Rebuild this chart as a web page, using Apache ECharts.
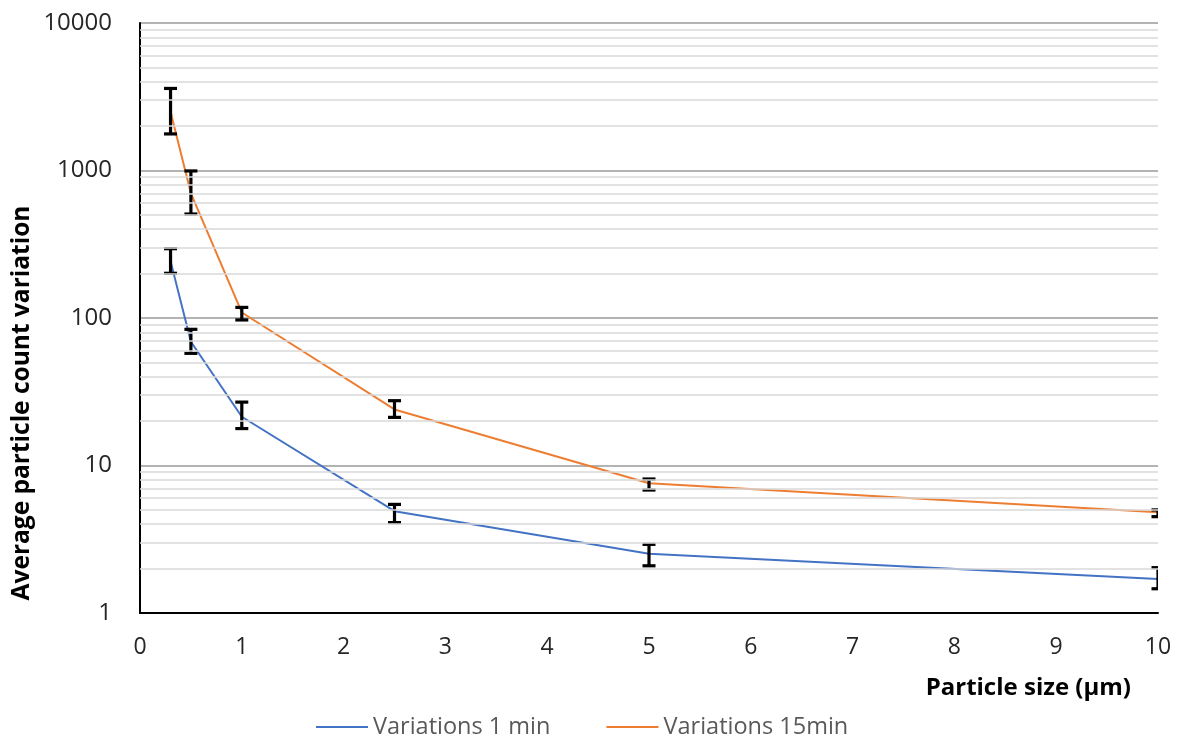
<!DOCTYPE html>
<html><head><meta charset="utf-8">
<script src="https://cdn.jsdelivr.net/npm/echarts@6/dist/echarts.min.js"></script>
<style>html,body{margin:0;padding:0;background:#fff}#c{width:1178px;height:738px}</style>
</head><body><div id="c"></div>
<script>
const sizes = [0.3, 0.5, 1, 2.5, 5, 10];
const var1min = [243, 69, 21.4, 4.9, 2.52, 1.7];
const var1minLow = [201, 57.6, 17.8, 4.1, 2.09, 1.46];
const var1minHigh = [295, 83.8, 26.9, 5.45, 2.92, 2.03];
const var15min = [2500, 700, 109, 24.0, 7.57, 4.82];
const var15minLow = [1770, 507, 97, 21.2, 6.82, 4.5];
const var15minHigh = [3600, 993, 118, 27.5, 8.1, 5.0];
const yTicks = [1, 10, 100, 1000, 10000];
const minorGridValues = [2,3,4,5,6,7,8,9,20,30,40,50,60,70,80,90,200,300,400,500,600,700,800,900,2000,3000,4000,5000,6000,7000,8000,9000];
const seriesNames = ['Variations 1 min', 'Variations 15min'];

const FONT = '"Open Sans"';
const chart = echarts.init(document.getElementById('c'), null, {renderer: 'canvas'});

function errData(xs, lo, hi) { return xs.map((x, i) => [x, lo[i], hi[i]]); }
function errRender(params, api) {
  const x = api.value(0);
  const p1 = api.coord([x, api.value(1)]);
  const p2 = api.coord([x, api.value(2)]);
  const w = 6.5;
  const style = {stroke: '#000', lineWidth: 3.2};
  return {type: 'group', children: [
    {type: 'line', shape: {x1: p1[0], y1: p1[1], x2: p2[0], y2: p2[1]}, style},
    {type: 'line', shape: {x1: p1[0]-w, y1: p1[1], x2: p1[0]+w, y2: p1[1]}, style},
    {type: 'line', shape: {x1: p2[0]-w, y1: p2[1], x2: p2[0]+w, y2: p2[1]}, style}
  ]};
}

chart.setOption({
  animation: false,
  textStyle: {fontFamily: FONT},
  grid: {left: 140, right: 20, top: 23, bottom: 125, containLabel: false},
  xAxis: {
    type: 'value', min: 0, max: 10, interval: 1,
    axisLine: {show: true, lineStyle: {color: '#000', width: 2}},
    axisTick: {show: false},
    splitLine: {show: false},
    axisLabel: {fontSize: 23, color: '#262626', margin: 23, fontFamily: FONT}
  },
  yAxis: {
    type: 'log', logBase: 10, min: yTicks[0], max: yTicks[yTicks.length-1],
    axisLine: {show: true, lineStyle: {color: '#000', width: 2}},
    axisTick: {show: false},
    splitLine: {show: true, lineStyle: {color: '#9a9a9a', width: 1.5}},
    axisLabel: {fontSize: 24, color: '#262626', margin: 28, fontFamily: FONT,
      formatter: v => String(Math.round(v))}
  },
  legend: {
    top: 710, left: 311,
    data: seriesNames,
    icon: 'rect', itemWidth: 52, itemHeight: 2, itemGap: 56,
    textStyle: {fontSize: 23.5, color: '#595959', fontFamily: FONT}
  },
  graphic: [
    {type: 'text', x: 22, y: 403, rotation: Math.PI/2,
      style: {text: 'Average particle count variation', font: 'bold 24.5px ' + FONT, fill: '#000', align: 'center', verticalAlign: 'middle'}},
    {type: 'text', x: 1131, y: 688,
      style: {text: 'Particle size (µm)', font: 'bold 24px ' + FONT, fill: '#000', align: 'right', verticalAlign: 'middle'}}
  ],
  series: [
    {type: 'line', name: '_grid', data: [], silent: true, z: 0,
      markLine: {silent: true, symbol: 'none', label: {show: false}, animation: false,
        lineStyle: {color: '#d9d9d9', width: 1.5, type: 'solid'},
        data: minorGridValues.map(v => ({yAxis: v}))}},
    {type: 'line', name: seriesNames[0], data: sizes.map((x, i) => [x, var1min[i]]),
      showSymbol: false, symbol: 'none', lineStyle: {color: '#4472C4', width: 2}, itemStyle: {color: '#4472C4'}, z: 3},
    {type: 'line', name: seriesNames[1], data: sizes.map((x, i) => [x, var15min[i]]),
      showSymbol: false, symbol: 'none', lineStyle: {color: '#ED7D31', width: 2}, itemStyle: {color: '#ED7D31'}, z: 3},
    {type: 'custom', name: 'err1', data: errData(sizes, var1minLow, var1minHigh), renderItem: errRender, clip: true, z: 4,
      encode: {x: 0, y: [1, 2]}},
    {type: 'custom', name: 'err15', data: errData(sizes, var15minLow, var15minHigh), renderItem: errRender, clip: true, z: 4,
      encode: {x: 0, y: [1, 2]}}
  ]
});
</script></body></html>
